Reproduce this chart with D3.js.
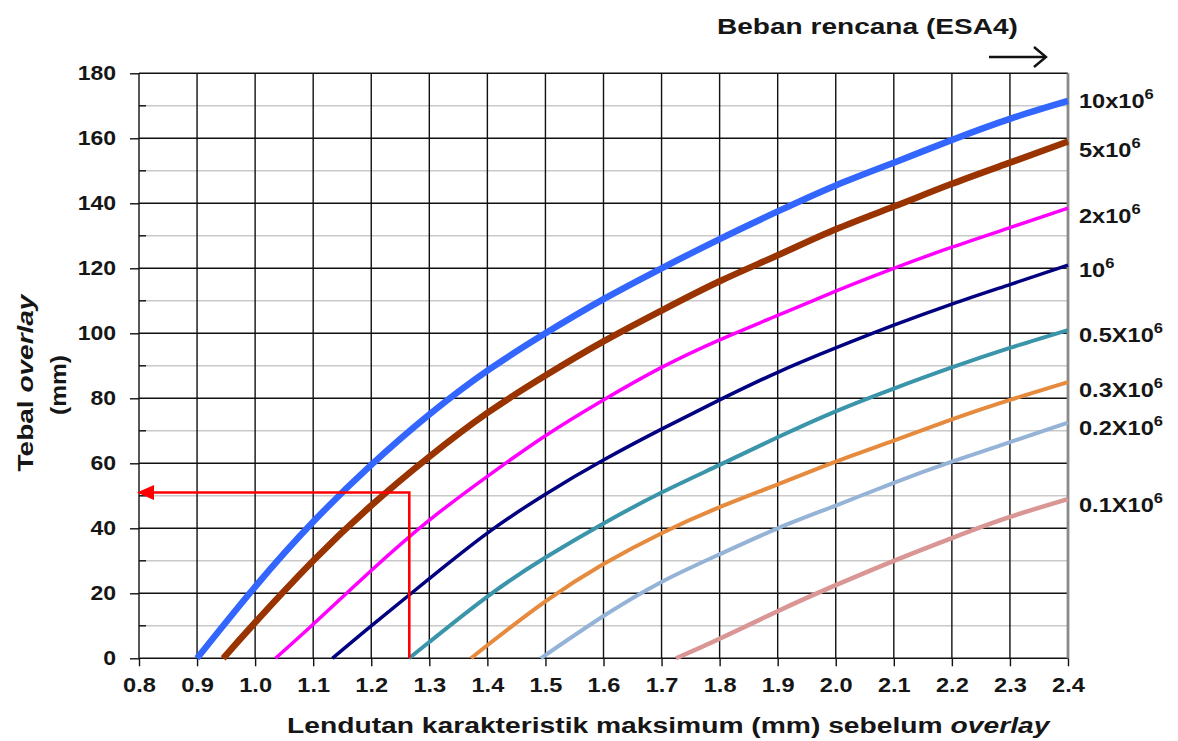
<!DOCTYPE html>
<html>
<head>
<meta charset="utf-8">
<script src="https://cdn.jsdelivr.net/npm/d3@7"></script>
<style>
  body { margin: 0; background: #fff; }
</style>
</head>
<body>
<svg id="chart" width="1178" height="741"></svg>
<script>
// ---- data ----
const xTickValues = [0.8, 0.9, 1.0, 1.1, 1.2, 1.3, 1.4, 1.5, 1.6, 1.7, 1.8, 1.9, 2.0, 2.1, 2.2, 2.3, 2.4];
const yTickValues = [0, 20, 40, 60, 80, 100, 120, 140, 160, 180];
const yMinorValues = [10, 30, 50, 70, 90, 110, 130, 150, 170];

// lendutan (mm) -> tebal overlay (mm), one array per design load
const esa10M  = [[0.9,0],[1.0,22],[1.1,42],[1.2,59.5],[1.3,75],[1.4,88.5],[1.5,100],[1.6,110.5],[1.7,120],[1.8,129],[1.9,137.5],[2.0,145.5],[2.1,152.5],[2.2,159.5],[2.3,166],[2.4,171.5]];
const esa5M   = [[0.945,0],[1.0,11],[1.1,30],[1.2,47],[1.3,62],[1.4,75.5],[1.5,87],[1.6,97.5],[1.7,107],[1.8,116],[1.9,124],[2.0,132],[2.1,139],[2.2,146],[2.3,152.5],[2.4,159]];
const esa2M   = [[1.035,0],[1.1,10.5],[1.2,27],[1.3,42.5],[1.4,56],[1.5,68.5],[1.6,79.5],[1.7,89.5],[1.8,98],[1.9,105.5],[2.0,113],[2.1,120],[2.2,126.5],[2.3,132.5],[2.4,138.5]];
const esa1M   = [[1.133,0],[1.2,10],[1.3,24.5],[1.4,38.5],[1.5,50.5],[1.6,61],[1.7,70.5],[1.8,79.5],[1.9,88],[2.0,95.5],[2.1,102.5],[2.2,109],[2.3,115],[2.4,121]];
const esa05M  = [[1.265,0],[1.3,5],[1.4,19],[1.5,31],[1.6,41.5],[1.7,51],[1.8,59.5],[1.9,68],[2.0,76],[2.1,83],[2.2,89.5],[2.3,95.5],[2.4,101]];
const esa03M  = [[1.372,0],[1.4,4],[1.5,17.5],[1.6,29],[1.7,38.5],[1.8,46.5],[1.9,53.5],[2.0,60.5],[2.1,67],[2.2,73.5],[2.3,79.5],[2.4,85]];
const esa02M  = [[1.492,0],[1.6,13],[1.7,23.5],[1.8,32],[1.9,40],[2.0,47],[2.1,54],[2.2,60.5],[2.3,66.5],[2.4,72.5]];
const esa01M  = [[1.725,0],[1.8,6],[1.9,14.5],[2.0,22.5],[2.1,30],[2.2,37],[2.3,43.5],[2.4,49]];

const seriesData   = [esa10M, esa5M, esa2M, esa1M, esa05M, esa03M, esa02M, esa01M];
const seriesLabels = ["10x10", "5x10", "2x10", "10", "0.5X10", "0.3X10", "0.2X10", "0.1X10"];
const labelExp = "6";

// example read-off: lendutan 1.265 mm -> overlay 51 mm
const examplePath = [[1.2655,0],[1.2655,51],[0.8,51]];

// ---- styles ----
const seriesColors = ["#3366ff", "#993300", "#ff00ff", "#000080", "#3a95aa", "#e68a3e", "#95b3d7", "#d99694"];
const seriesWidths = [6.5, 6.5, 3.5, 3.5, 4, 4, 4, 4.5];
const labelDy = [7, 15.5, 15, 12, 12, 15, 12, 13];
const FONT = "'Liberation Sans', Arial, sans-serif";
const TXT = "#161616";

const svg = d3.select("#chart");
const m = {left: 139, right: 1068, top: 73.3, bottom: 658.3};

const x = d3.scaleLinear().domain([0.8, 2.4]).range([m.left, m.right]);
const y = d3.scaleLinear().domain([0, 180]).range([m.bottom, m.top]);

// minor horizontal grid
svg.append("g").selectAll("line").data(yMinorValues).join("line")
    .attr("x1", x(0.8)).attr("x2", x(2.4))
    .attr("y1", d => y(d)).attr("y2", d => y(d))
    .attr("stroke", "#c9c9c9").attr("stroke-width", 1.6);

// minor ticks (inside)
svg.append("g").selectAll("line").data(yMinorValues).join("line")
    .attr("x1", x(0.8)).attr("x2", x(0.8) + 7)
    .attr("y1", d => y(d)).attr("y2", d => y(d))
    .attr("stroke", "#111").attr("stroke-width", 1.4);

// major horizontal grid
svg.append("g").selectAll("line").data(yTickValues).join("line")
    .attr("x1", x(0.8)).attr("x2", x(2.4))
    .attr("y1", d => y(d)).attr("y2", d => y(d))
    .attr("stroke", "#111").attr("stroke-width", 1.4);

// vertical grid
svg.append("g").selectAll("line").data(xTickValues).join("line")
    .attr("x1", d => x(d)).attr("x2", d => x(d))
    .attr("y1", y(0)).attr("y2", y(180))
    .attr("stroke", d => d === 2.4 ? "#8a8a8a" : "#111")
    .attr("stroke-width", d => d === 2.4 ? 2.8 : 1.4);

// axes
const gx = svg.append("g")
    .attr("transform", `translate(0,${y(0)})`)
    .call(d3.axisBottom(x).tickValues(xTickValues).tickFormat(d3.format(".1f")).tickSize(8).tickPadding(12));
gx.select(".domain").remove();
gx.selectAll(".tick line").attr("stroke", "#111").attr("stroke-width", 1.4);
gx.selectAll(".tick text")
    .attr("font-family", FONT).attr("font-size", 20).attr("font-weight", "bold")
    .attr("fill", TXT).attr("transform", "scale(1.18,1)");

const gy = svg.append("g")
    .attr("transform", `translate(${x(0.8)},0)`)
    .call(d3.axisLeft(y).tickValues(yTickValues).tickSize(9).tickPadding(11));
gy.select(".domain").remove();
gy.selectAll(".tick line").attr("stroke", "#111").attr("stroke-width", 1.4);
gy.selectAll(".tick text")
    .attr("font-family", FONT).attr("font-size", 20).attr("font-weight", "bold")
    .attr("fill", TXT).attr("transform", "scale(1.15,1)");

// curves
const line = d3.line().x(d => x(d[0])).y(d => y(d[1])).curve(d3.curveNatural);
svg.append("g").selectAll("path").data(seriesData).join("path")
    .attr("d", line)
    .attr("fill", "none")
    .attr("stroke", (d, i) => seriesColors[i])
    .attr("stroke-width", (d, i) => seriesWidths[i])
    .attr("stroke-linejoin", "round");

// markers
const defs = svg.append("defs");
defs.append("marker").attr("id", "redHead")
    .attr("markerUnits", "userSpaceOnUse")
    .attr("markerWidth", 18).attr("markerHeight", 16)
    .attr("refX", 15).attr("refY", 7.5).attr("orient", "auto")
    .append("path").attr("d", "M0,0 L17,7.5 L0,15 Z").attr("fill", "#ff0000");
defs.append("marker").attr("id", "openHead")
    .attr("markerUnits", "userSpaceOnUse")
    .attr("markerWidth", 16).attr("markerHeight", 24)
    .attr("refX", 13).attr("refY", 11).attr("orient", "auto")
    .append("path").attr("d", "M1,1 L13,11 L1,21").attr("fill", "none")
    .attr("stroke", "#111").attr("stroke-width", 2.4);

// red example path
svg.append("path")
    .datum(examplePath)
    .attr("d", d3.line().x(d => x(d[0])).y(d => y(d[1])))
    .attr("fill", "none").attr("stroke", "#ff0000").attr("stroke-width", 2.6)
    .attr("marker-end", "url(#redHead)");

// arrow near top-right
svg.append("line")
    .attr("x1", 989).attr("x2", 1046).attr("y1", 57).attr("y2", 57)
    .attr("stroke", "#111").attr("stroke-width", 2.4)
    .attr("marker-end", "url(#openHead)");

// text helper: stretch a text node to a target width
function fitText(sel, target) {
    const w = sel.node().getComputedTextLength();
    const t = sel.attr("data-t");
    sel.attr("transform", `${t} scale(${target / w},1)`);
}

// series labels at right
const lab = svg.append("g").selectAll("text").data(seriesData).join("text")
    .attr("transform", (d, i) => `translate(1079,${y(d[d.length - 1][1]) + labelDy[i]}) scale(1.18,1)`)
    .attr("font-family", FONT).attr("font-size", 20).attr("font-weight", "bold").attr("fill", TXT);
lab.append("tspan").text((d, i) => seriesLabels[i]);
lab.append("tspan").attr("dy", -9).attr("font-size", 14).text(labelExp);

// top title
const topTitle = svg.append("text")
    .attr("data-t", "translate(717,34)")
    .attr("font-family", FONT).attr("font-size", 22).attr("font-weight", "bold").attr("fill", TXT)
    .text("Beban rencana (ESA4)");
fitText(topTitle, 301);

// x title
const xTitle = svg.append("text")
    .attr("data-t", "translate(287,733)")
    .attr("font-family", FONT).attr("font-size", 22).attr("font-weight", "bold").attr("fill", TXT);
xTitle.append("tspan").text("Lendutan karakteristik maksimum (mm) sebelum ");
xTitle.append("tspan").attr("font-style", "italic").text("overlay");
fitText(xTitle, 763);

// y title
const yTitle = svg.append("text")
    .attr("data-t", "translate(33,383) rotate(-90)")
    .attr("text-anchor", "middle")
    .attr("font-family", FONT).attr("font-size", 22).attr("font-weight", "bold").attr("fill", TXT);
yTitle.append("tspan").text("Tebal ");
yTitle.append("tspan").attr("font-style", "italic").text("overlay");
fitText(yTitle, 177);

const yUnit = svg.append("text")
    .attr("data-t", "translate(66,385) rotate(-90)")
    .attr("text-anchor", "middle")
    .attr("font-family", FONT).attr("font-size", 22).attr("font-weight", "bold").attr("fill", TXT)
    .text("(mm)");
fitText(yUnit, 60);
</script>
</body>
</html>
